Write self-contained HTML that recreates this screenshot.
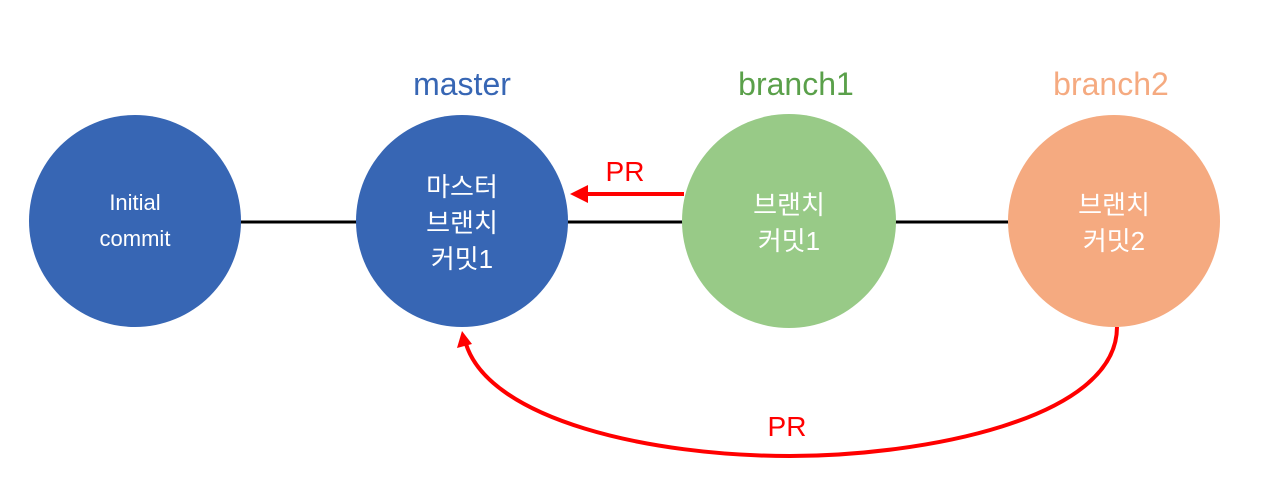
<!DOCTYPE html>
<html><head><meta charset="utf-8"><style>
html,body{margin:0;padding:0;background:#fff;width:1266px;height:494px;overflow:hidden}
text{font-family:"Liberation Sans","Noto Sans CJK KR",sans-serif}
</style></head><body>
<svg width="1266" height="494" viewBox="0 0 1266 494" xmlns="http://www.w3.org/2000/svg">
<line x1="240" y1="222" x2="1010" y2="222" stroke="#000" stroke-width="3"/>
<circle cx="135" cy="221" r="106" fill="#3766b4"/>
<circle cx="462" cy="221" r="106" fill="#3766b4"/>
<circle cx="789" cy="221" r="107" fill="#98ca87"/>
<circle cx="1114" cy="221" r="106" fill="#f5aa80"/>
<g fill="#fff" font-size="22" text-anchor="middle">
<text x="135" y="210">Initial</text>
<text x="135" y="246">commit</text>
<text x="462" y="196" font-size="26">마스터</text>
<text x="462" y="232" font-size="26">브랜치</text>
<text x="462" y="268" font-size="26">커밋1</text>
<text x="789" y="214" font-size="26">브랜치</text>
<text x="789" y="250" font-size="26">커밋1</text>
<text x="1114" y="214" font-size="26">브랜치</text>
<text x="1114" y="250" font-size="26">커밋2</text>
</g>
<g font-size="32" text-anchor="middle">
<text x="462" y="95" fill="#3766b4">master</text>
<text x="796" y="95" fill="#5aa04a">branch1</text>
<text x="1111" y="95" fill="#f5aa80">branch2</text>
</g>
<line x1="684" y1="194" x2="584" y2="194" stroke="#f00" stroke-width="4"/>
<polygon points="570,194 588,185 588,203" fill="#f00"/>
<text x="625" y="181" fill="#f00" font-size="28" text-anchor="middle">PR</text>
<path d="M1117,327 C1117,420 920,456 790,456 C650,456 490,420 466,344" fill="none" stroke="#f00" stroke-width="4"/>
<polygon points="462,331 457,348 472,344" fill="#f00"/>
<text x="787" y="436" fill="#f00" font-size="28" text-anchor="middle">PR</text>
</svg>
</body></html>
